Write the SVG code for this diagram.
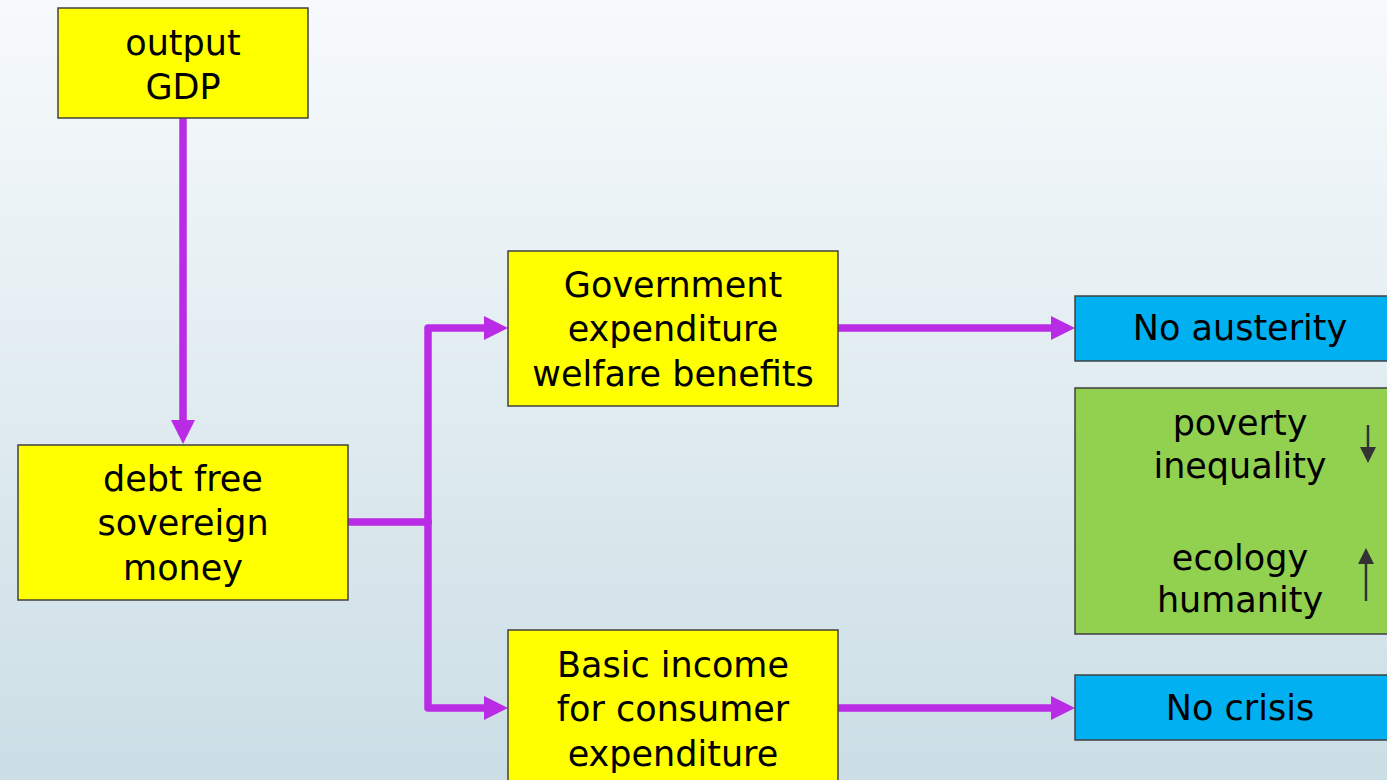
<svg xmlns="http://www.w3.org/2000/svg" width="1387" height="780" viewBox="0 0 1387 780">
  <defs>
    <linearGradient id="bg" x1="0" y1="0" x2="0" y2="1">
      <stop offset="0" stop-color="#F7FAFC"/>
      <stop offset="1" stop-color="#CBDEE5"/>
    </linearGradient>
    <marker id="head" viewBox="0 0 24 24" refX="0" refY="12" markerWidth="24" markerHeight="24" markerUnits="userSpaceOnUse" orient="auto">
      <path d="M0,0 L24,12 L0,24 Z" fill="#BA2BE6"/>
    </marker>
    <marker id="small" viewBox="0 0 16 16" refX="0" refY="8" markerWidth="16" markerHeight="16" markerUnits="userSpaceOnUse" orient="auto">
      <path d="M0,0 L16,8 L0,16 Z" fill="#333333"/>
    </marker>
  </defs>
  <style>
    .box { stroke: #404040; stroke-width: 1.5; }
    .yellow { fill: #FFFF00; }
    .blue { fill: #00B0F0; }
    .green { fill: #92D050; }
    .label { font-family: "DejaVu Sans", sans-serif; font-size: 35px; fill: #000000; text-anchor: middle; }
    .flow { fill: none; stroke: #BA2BE6; stroke-width: 7.5; stroke-linecap: round; stroke-linejoin: round; }
    .trend { fill: none; stroke: #333333; stroke-width: 2.5; }
  </style>

  <rect x="0" y="0" width="1387" height="780" fill="url(#bg)"/>

  <g id="connectors">
    <path class="flow" d="M183,118 L183,420" marker-end="url(#head)"/>
    <path class="flow" d="M348,522 L428,522"/>
    <path class="flow" d="M428,522 L428,328 L484,328" marker-end="url(#head)"/>
    <path class="flow" d="M428,522 L428,708 L484,708" marker-end="url(#head)"/>
    <path class="flow" d="M838,328 L1051,328" marker-end="url(#head)"/>
    <path class="flow" d="M838,708 L1051,708" marker-end="url(#head)"/>
  </g>

  <g id="output-gdp">
    <rect class="box yellow" x="58" y="8" width="250" height="110"/>
    <text class="label" x="183" y="55">output</text>
    <text class="label" x="183" y="99">GDP</text>
  </g>

  <g id="sovereign-money">
    <rect class="box yellow" x="18" y="445" width="330" height="155"/>
    <text class="label" x="183" y="491">debt free</text>
    <text class="label" x="183" y="535">sovereign</text>
    <text class="label" x="183" y="580">money</text>
  </g>

  <g id="government-expenditure">
    <rect class="box yellow" x="508" y="251" width="330" height="155"/>
    <text class="label" x="673" y="297">Government</text>
    <text class="label" x="673" y="341">expenditure</text>
    <text class="label" x="673" y="386">welfare benefits</text>
  </g>

  <g id="basic-income">
    <rect class="box yellow" x="508" y="630" width="330" height="160"/>
    <text class="label" x="673" y="677">Basic income</text>
    <text class="label" x="673" y="721">for consumer</text>
    <text class="label" x="673" y="766">expenditure</text>
  </g>

  <g id="no-austerity">
    <rect class="box blue" x="1075" y="296" width="320" height="65"/>
    <text class="label" x="1240" y="340">No austerity</text>
  </g>

  <g id="outcomes">
    <rect class="box green" x="1075" y="388" width="320" height="246"/>
    <text class="label" x="1240" y="435">poverty</text>
    <text class="label" x="1240" y="478">inequality</text>
    <text class="label" x="1240" y="570">ecology</text>
    <text class="label" x="1240" y="612">humanity</text>
    <path class="trend" d="M1368,425 L1368,447" marker-end="url(#small)"/>
    <path class="trend" d="M1366,601 L1366,564" marker-end="url(#small)"/>
  </g>

  <g id="no-crisis">
    <rect class="box blue" x="1075" y="675" width="320" height="65"/>
    <text class="label" x="1240" y="720">No crisis</text>
  </g>
</svg>
